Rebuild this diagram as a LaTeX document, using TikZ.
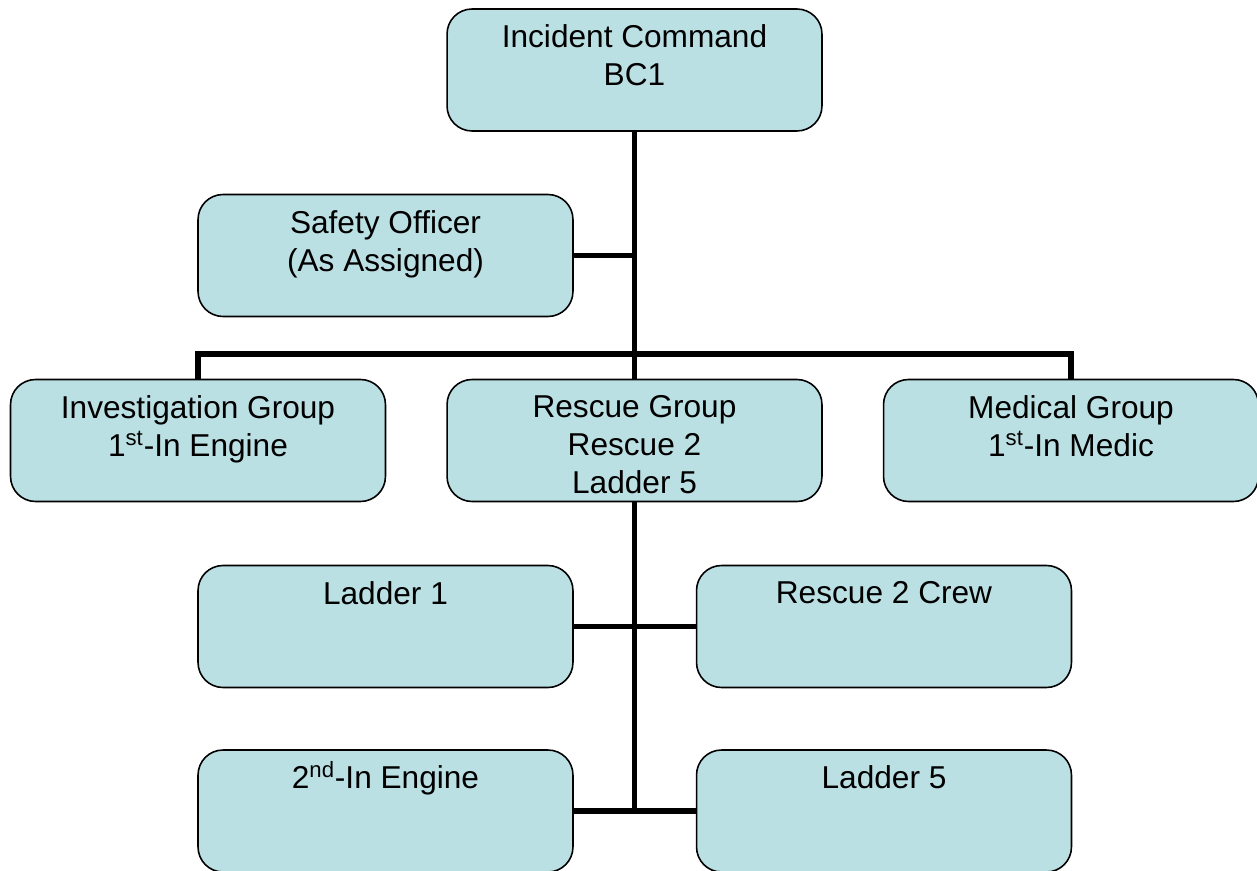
\documentclass[tikz,border=0pt]{standalone}
\usepackage{fontspec}
\setmainfont{Liberation Sans}
\usepackage{xcolor}
\definecolor{unitfill}{RGB}{187,224,228}
\newcommand\unittext[1]{\parbox[c][2.44cm][t]{7.3cm}{\centering\vspace*{0.32cm}#1}}
\newcommand\ord[1]{\smash{\textsuperscript{#1}}}
\tikzset{
  unit/.style = {draw=black, line width=0.9pt, rounded corners=0.5cm,
                 fill=unitfill, inner sep=0pt, minimum width=7.5cm,
                 minimum height=2.44cm,
                 font=\fontsize{18}{21.6}\selectfont},
  link/.style = {draw=black, line width=3.1pt}
}
\begin{document}
\begin{tikzpicture}[x=0.02cm,y=-0.02cm]
  \useasboundingbox (0,0) rectangle (1257,871);
  % command and staff
  \node[unit] (ic)     at (634.5,70)    {\unittext{Incident Command\\BC1}};
  \node[unit] (safety) at (385.5,255.5) {\unittext{Safety Officer\\(As Assigned)}};
  % groups
  \node[unit] (invest)  at (198,440.5)   {\unittext{Investigation Group\\1\ord{st}-In Engine}};
  \node[unit] (rescue)  at (634.5,440.5) {\unittext{Rescue Group\\Rescue 2\\Ladder 5}};
  \node[unit] (medical) at (1071,440.5)  {\unittext{Medical Group\\1\ord{st}-In Medic}};
  % rescue group resources
  \node[unit] (ladder1) at (385.5,626.5) {\unittext{Ladder 1}};
  \node[unit] (crew)    at (884,626.5)   {\unittext{Rescue 2 Crew}};
  \node[unit] (engine2) at (385.5,811)   {\unittext{2\ord{nd}-In Engine}};
  \node[unit] (ladder5) at (884,811)     {\unittext{Ladder 5}};
  \coordinate (bus)  at (634.5,354);
  \coordinate (foot) at (634.5,810);
  % connectors
  \draw[link] (ic.south) -- (rescue.north);
  \draw[link] (safety.east) -- (safety.east -| ic.south);
  \draw[link] (invest.north) |- (bus) -| (medical.north);
  \draw[link] (rescue.south) -- (foot);
  \draw[link] (ladder1.east) -- (crew.west);
  \draw[link] (engine2.east) -- (ladder5.west);
\end{tikzpicture}
\end{document}
